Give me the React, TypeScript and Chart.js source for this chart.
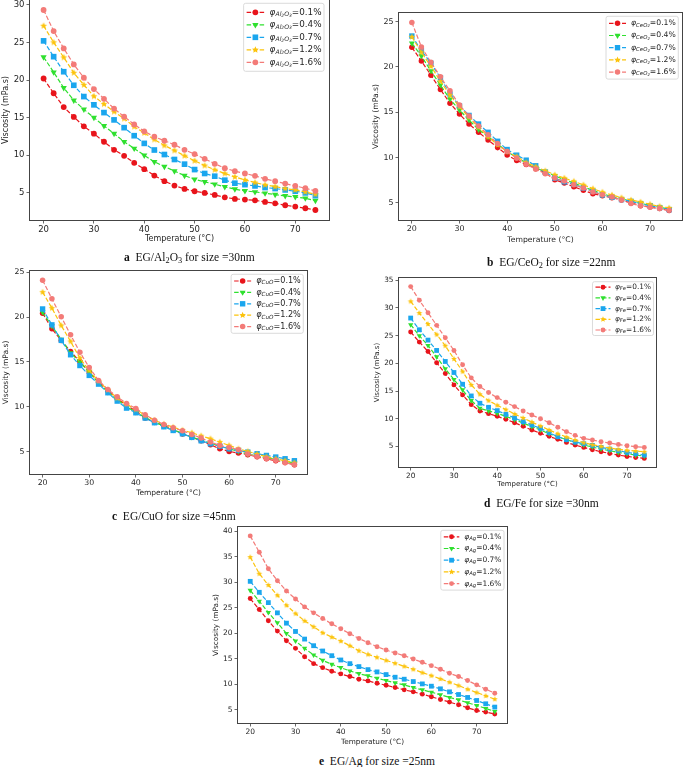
import React, { useEffect, useRef } from "react";
import { Chart, registerables } from "chart.js";
Chart.register(...registerables);

// ---------------- DATA ----------------
const temperatures = [20, 22, 24, 26, 28, 30, 32, 34, 36, 38, 40, 42, 44, 46, 48, 50, 52, 54, 56, 58, 60, 62, 64, 66, 68, 70, 72, 74];
const concentrations = ["0.1%", "0.4%", "0.7%", "1.2%", "1.6%"];
const xTicks = [20, 30, 40, 50, 60, 70];

// a: EG/Al2O3
const al2o3_01 = [20.2, 18.24, 16.4, 15.1, 13.84, 12.87, 11.8, 10.73, 9.93, 9.0, 8.16, 7.31, 6.56, 5.98, 5.53, 5.22, 5.0, 4.73, 4.42, 4.2, 4.12, 4.02, 3.8, 3.62, 3.36, 3.18, 2.96, 2.73];
const al2o3_04 = [23.04, 21.04, 18.96, 17.3, 16.1, 15.0, 13.9, 12.87, 11.8, 10.9, 10.0, 9.13, 8.5, 7.9, 7.3, 6.8, 6.47, 6.16, 5.8, 5.5, 5.27, 5.13, 4.96, 4.78, 4.6, 4.47, 4.29, 3.98];
const al2o3_07 = [25.2, 23.1, 21.1, 19.3, 17.8, 16.7, 15.67, 14.7, 13.67, 12.6, 11.58, 10.7, 10.1, 9.44, 8.82, 8.1, 7.58, 7.22, 6.69, 6.29, 6.1, 5.93, 5.71, 5.58, 5.4, 5.22, 5.0, 4.64];
const al2o3_12 = [27.2, 25.0, 23.0, 20.96, 19.36, 17.84, 16.8, 15.8, 14.87, 13.8, 12.96, 12.1, 11.3, 10.64, 9.93, 9.27, 8.64, 8.07, 7.58, 7.13, 6.73, 6.38, 6.07, 5.84, 5.58, 5.4, 5.13, 4.82];
const al2o3_16 = [29.3, 26.5, 24.2, 22.07, 20.3, 18.8, 17.5, 16.2, 15.13, 14.1, 13.18, 12.47, 11.93, 11.4, 10.73, 10.16, 9.53, 8.87, 8.29, 7.89, 7.58, 7.27, 6.87, 6.56, 6.24, 5.93, 5.62, 5.27];
const yTicksA = [5, 10, 15, 20, 25, 30];

// b: EG/CeO2
const ceo2_01 = [22.15, 20.65, 19.08, 17.5, 16.0, 14.8, 13.7, 12.79, 11.95, 11.1, 10.3, 9.68, 9.24, 8.84, 8.3, 7.56, 7.19, 6.79, 6.39, 6.02, 5.8, 5.58, 5.33, 5.0, 4.7, 4.56, 4.38, 4.16];
const ceo2_04 = [22.6, 21.2, 19.55, 17.98, 16.44, 15.24, 14.14, 13.1, 12.3, 11.5, 10.67, 10.0, 9.42, 8.84, 8.47, 8.0, 7.56, 7.19, 6.79, 6.39, 6.02, 5.69, 5.48, 5.18, 4.96, 4.74, 4.52, 4.34];
const ceo2_07 = [23.4, 21.8, 20.4, 18.8, 17.0, 15.7, 14.65, 13.7, 12.79, 11.8, 10.89, 10.27, 9.72, 9.1, 8.4, 7.74, 7.34, 7.05, 6.65, 6.28, 5.88, 5.62, 5.37, 5.18, 4.93, 4.7, 4.49, 4.27];
const ceo2_12 = [23.3, 21.6, 20.06, 18.42, 16.88, 15.6, 14.43, 13.34, 12.3, 11.4, 10.67, 10.12, 9.46, 9.0, 8.55, 8.1, 7.74, 7.38, 7.0, 6.57, 6.2, 5.88, 5.58, 5.33, 5.11, 4.85, 4.63, 4.45];
const ceo2_16 = [24.9, 22.2, 20.5, 18.9, 17.36, 15.8, 14.58, 13.48, 12.53, 11.54, 10.67, 9.94, 9.28, 8.73, 8.22, 7.74, 7.41, 7.0, 6.65, 6.2, 5.91, 5.66, 5.33, 4.93, 4.7, 4.52, 4.38, 4.2];
const yTicksB = [5, 10, 15, 20, 25];

// c: EG/CuO
const cuo_01 = [20.43, 18.7, 17.4, 16.16, 15.05, 13.87, 12.75, 11.8, 10.9, 10.16, 9.56, 8.75, 8.3, 7.93, 7.49, 6.97, 6.63, 6.22, 5.78, 5.33, 5.04, 4.85, 4.67, 4.44, 4.22, 4.0, 3.81, 3.55];
const cuo_04 = [20.54, 19.0, 17.5, 16.0, 14.98, 13.87, 12.68, 11.64, 10.82, 10.0, 9.41, 8.82, 8.3, 7.86, 7.45, 7.04, 6.63, 6.3, 5.96, 5.63, 5.33, 5.04, 4.74, 4.52, 4.33, 4.15, 3.92, 3.74];
const cuo_07 = [20.9, 19.13, 17.4, 15.8, 14.6, 13.5, 12.53, 11.57, 10.64, 9.86, 9.34, 8.75, 8.23, 7.78, 7.37, 7.0, 6.6, 6.22, 5.89, 5.63, 5.33, 5.15, 4.96, 4.78, 4.59, 4.41, 4.22, 4.0];
const cuo_12 = [22.77, 20.99, 19.06, 17.28, 15.42, 14.05, 12.86, 11.9, 10.97, 10.3, 9.71, 9.04, 8.52, 8.08, 7.74, 7.41, 7.11, 6.78, 6.45, 6.08, 5.7, 5.33, 5.04, 4.74, 4.44, 4.22, 4.0, 3.78];
const cuo_16 = [24.1, 22.03, 20.02, 18.02, 16.09, 14.38, 12.94, 11.94, 11.12, 10.38, 9.82, 9.12, 8.52, 8.04, 7.67, 7.34, 6.93, 6.52, 6.08, 5.7, 5.48, 5.22, 4.74, 4.48, 4.26, 4.04, 3.78, 3.55];
const yTicksC = [5, 10, 15, 20, 25];

// d: EG/Fe
const fe_01 = [25.64, 23.83, 22.14, 20.09, 18.16, 16.1, 14.3, 12.54, 11.4, 10.91, 10.43, 9.89, 9.28, 8.62, 7.96, 7.35, 6.81, 6.27, 5.72, 5.24, 4.82, 4.4, 4.03, 3.73, 3.43, 3.19, 3.0, 2.83];
const fe_04 = [26.97, 24.98, 23.23, 21.17, 19.0, 17.07, 15.2, 13.27, 11.88, 11.4, 10.97, 10.43, 9.83, 9.22, 8.56, 7.96, 7.29, 6.75, 6.21, 5.72, 5.24, 4.88, 4.52, 4.22, 3.91, 3.67, 3.43, 3.25];
const fe_07 = [28.17, 26.06, 24.19, 22.32, 20.33, 18.34, 16.22, 14.11, 12.79, 12.06, 11.46, 10.79, 10.13, 9.47, 8.86, 8.26, 7.47, 6.75, 6.21, 5.78, 5.48, 5.18, 4.82, 4.52, 4.22, 3.91, 3.67, 3.43];
const fe_12 = [31.19, 29.08, 27.09, 25.2, 23.17, 20.81, 18.52, 16.1, 14.41, 13.27, 12.42, 11.64, 10.85, 10.13, 9.4, 8.68, 7.96, 7.29, 6.69, 6.15, 5.66, 5.3, 5.0, 4.7, 4.46, 4.28, 4.16, 4.03];
const fe_16 = [33.85, 31.37, 29.14, 26.85, 24.61, 22.32, 19.73, 17.37, 15.8, 14.72, 13.81, 12.97, 12.18, 11.4, 10.67, 10.0, 9.28, 8.44, 7.66, 6.99, 6.45, 6.15, 5.84, 5.6, 5.36, 5.12, 4.94, 4.82];
const yTicksD = [5, 10, 15, 20, 25, 30, 35];

// e: EG/Ag
const ag_01 = [26.8, 24.65, 22.44, 20.42, 18.53, 17.04, 15.41, 14.04, 13.26, 12.55, 12.03, 11.51, 10.99, 10.66, 10.2, 9.81, 9.36, 8.9, 8.51, 8.06, 7.54, 7.02, 6.5, 5.98, 5.39, 4.87, 4.54, 4.15];
const ag_04 = [28.42, 26.28, 24.06, 22.05, 19.96, 18.47, 17.04, 15.74, 14.69, 13.91, 13.26, 12.61, 12.09, 11.64, 11.18, 10.73, 10.27, 9.88, 9.36, 8.9, 8.45, 7.93, 7.41, 6.95, 6.37, 5.85, 5.26, 4.67];
const ag_07 = [30.18, 28.03, 26.01, 24.0, 21.98, 20.35, 18.86, 17.56, 16.52, 15.6, 14.76, 14.04, 13.46, 12.87, 12.42, 11.9, 11.38, 10.99, 10.53, 10.07, 9.62, 9.1, 8.51, 7.99, 7.41, 6.82, 6.17, 5.52];
const ag_12 = [34.93, 31.68, 29.46, 27.45, 25.49, 23.87, 22.44, 21.27, 20.09, 19.25, 18.47, 17.56, 16.58, 15.87, 15.28, 14.69, 14.11, 13.52, 12.94, 12.29, 11.7, 11.05, 10.4, 9.75, 9.03, 8.38, 7.73, 7.08];
const ag_16 = [39.09, 35.9, 32.65, 30.31, 28.29, 26.73, 25.17, 24.0, 22.89, 21.85, 20.88, 19.9, 18.99, 18.14, 17.36, 16.71, 16.13, 15.6, 14.95, 14.3, 13.65, 12.94, 12.16, 11.51, 10.73, 9.88, 9.03, 8.25];
const yTicksE = [5, 10, 15, 20, 25, 30, 35, 40];

// ---------------- STYLE ----------------
const COLORS = ["#e8141b", "#2fe02f", "#1aa6ee", "#fcc30b", "#f37b78"];
const FF = "'DejaVu Sans', sans-serif";
const INK = "#262626";

type Sub = [string, number];
interface PanelCfg {
  canvas: { x: number; y: number; w: number; h: number };
  yW: number; xH: number;
  tickFont: number; titleFont: number;
  markerScale: number;
  series: number[][];
  yTicks: number[];
  sub: Sub[];
  legend: { font: number; row: number; handle: number; gap: number; m: number; right: number; top: number };
}

const panels: PanelCfg[] = [
  {
    canvas: { x: 1, y: -8, w: 336, h: 252 }, yW: 29, xH: 24, tickFont: 8.5, titleFont: 8, markerScale: 1,
    series: [al2o3_01, al2o3_04, al2o3_07, al2o3_12, al2o3_16], yTicks: yTicksA,
    sub: [["Al", 1], ["2", 2], ["O", 1], ["3", 2]],
    legend: { font: 8.8, row: 12.5, handle: 17.5, gap: 5.5, m: 9, right: 5, top: 3.3 },
  },
  {
    canvas: { x: 371, y: 5, w: 319, h: 240 }, yW: 28, xH: 25, tickFont: 7.9, titleFont: 7.7, markerScale: 0.95,
    series: [ceo2_01, ceo2_04, ceo2_07, ceo2_12, ceo2_16], yTicks: yTicksB,
    sub: [["CeO", 1], ["2", 2]],
    legend: { font: 7.7, row: 12.2, handle: 17, gap: 5, m: 7, right: 3.7, top: 3.3 },
  },
  {
    canvas: { x: 2, y: 263, w: 313, h: 235 }, yW: 28, xH: 24, tickFont: 7.8, titleFont: 7.5, markerScale: 0.95,
    series: [cuo_01, cuo_04, cuo_07, cuo_12, cuo_16], yTicks: yTicksC,
    sub: [["CuO", 1]],
    legend: { font: 8.1, row: 11.4, handle: 17, gap: 5, m: 6.7, right: 3.7, top: 3.3 },
  },
  {
    canvas: { x: 373, y: 270, w: 291, h: 218 }, yW: 26, xH: 21, tickFont: 7.3, titleFont: 7, markerScale: 0.85,
    series: [fe_01, fe_04, fe_07, fe_12, fe_16], yTicks: yTicksD,
    sub: [["Fe", 1]],
    legend: { font: 7.4, row: 10.7, handle: 15, gap: 4.5, m: 5.5, right: 2.5, top: 3.7 },
  },
  {
    canvas: { x: 212, y: 519, w: 303, h: 227 }, yW: 26, xH: 23, tickFont: 7.5, titleFont: 7.3, markerScale: 0.85,
    series: [ag_01, ag_04, ag_07, ag_12, ag_16], yTicks: yTicksE,
    sub: [["Ag", 1]],
    legend: { font: 7.5, row: 11.7, handle: 15.5, gap: 5, m: 6.5, right: 3, top: 3.3 },
  },
];

function makeStar(color: string, r: number): HTMLCanvasElement {
  const s = 2 * Math.ceil(r) + 2;
  const c = document.createElement("canvas");
  c.width = s; c.height = s;
  const ctx = c.getContext("2d")!;
  drawStarPath(ctx, s / 2, s / 2, r);
  ctx.fillStyle = color;
  ctx.fill();
  return c;
}
function drawStarPath(ctx: CanvasRenderingContext2D, x: number, y: number, r: number) {
  ctx.beginPath();
  for (let i = 0; i < 10; i++) {
    const rr = i % 2 === 0 ? r : r * 0.45;
    const a = -Math.PI / 2 + (i * Math.PI) / 5;
    ctx.lineTo(x + rr * Math.cos(a), y + rr * Math.sin(a));
  }
  ctx.closePath();
}

function drawLegendMarker(ctx: CanvasRenderingContext2D, i: number, x: number, y: number, s: number) {
  ctx.save();
  ctx.fillStyle = COLORS[i];
  ctx.setLineDash([]);
  if (i === 0 || i === 4) {
    ctx.beginPath(); ctx.arc(x, y, 2.9 * s, 0, Math.PI * 2); ctx.fill();
  } else if (i === 1) {
    const r = 3.6 * s;
    ctx.beginPath();
    ctx.moveTo(x, y + r);
    ctx.lineTo(x - r * 0.866, y - r * 0.5);
    ctx.lineTo(x + r * 0.866, y - r * 0.5);
    ctx.closePath(); ctx.fill();
  } else if (i === 2) {
    const h = 4.0 * s * Math.SQRT1_2;
    ctx.fillRect(x - h, y - h, 2 * h, 2 * h);
  } else {
    drawStarPath(ctx, x, y, 3.6 * s); ctx.fill();
  }
  ctx.restore();
}

function buildConfig(p: PanelCfg): any {
  const s = p.markerScale;
  const datasets = p.series.map((vals, i) => {
    const d: any = {
      label: concentrations[i],
      data: temperatures.map((t, k) => ({ x: t, y: vals[k] })),
      borderColor: COLORS[i],
      backgroundColor: COLORS[i],
      borderWidth: 1.2,
      borderDash: [4.5, 2],
      pointBorderWidth: 0,
      pointHoverRadius: 0,
      tension: 0,
      fill: false,
      order: 4 - i,
    };
    if (i === 0 || i === 4) { d.pointStyle = "circle"; d.pointRadius = 2.9 * s; }
    else if (i === 1) { d.pointStyle = "triangle"; d.pointRotation = 180; d.pointRadius = 3.6 * s; }
    else if (i === 2) { d.pointStyle = "rect"; d.pointRadius = 4.0 * s; }
    else { d.pointStyle = makeStar(COLORS[3], 3.6 * s); d.pointRadius = 3.6 * s; }
    return d;
  });
  const all = p.series.flat();
  const lo = Math.min(...all), hi = Math.max(...all);
  const m = (hi - lo) * 0.05;
  const xm = (74 - 20) * 0.05;

  const frame = {
    id: "frame",
    afterDatasetsDraw(chart: any) {
      const { ctx, chartArea: a } = chart;
      ctx.save();
      ctx.strokeStyle = "#444";
      ctx.lineWidth = 1;
      const l = Math.round(a.left) - 0.5, t = Math.round(a.top) - 0.5;
      const r = Math.round(a.right) + 0.5, b = Math.round(a.bottom) + 0.5;
      ctx.strokeRect(l, t, r - l, b - t);
      ctx.restore();
    },
  };

  const legend = {
    id: "insideLegend",
    afterDraw(chart: any) {
      const { ctx, chartArea: a } = chart;
      const L = p.legend;
      const f = L.font;
      const rows = concentrations.map((c) => [
        { t: "φ", size: f, dy: 0, st: "italic" },
        ...p.sub.map(([t, lvl]) => ({ t, size: lvl === 1 ? f * 0.7 : f * 0.5, dy: lvl === 1 ? f * 0.24 : f * 0.4, st: "italic" })),
        { t: "=" + c, size: f, dy: 0, st: "normal" },
      ]);
      ctx.save();
      let textW = 0;
      rows.forEach((segs) => {
        let w = 0;
        for (const sg of segs) {
          ctx.font = `${sg.st} ${sg.size}px ${FF}`;
          w += ctx.measureText(sg.t).width;
        }
        textW = Math.max(textW, w);
      });
      const padL = 3, padR = 2.5;
      const boxW = padL + L.handle + L.gap + textW + padR;
      const boxH = L.m * 2 + L.row * 4;
      const bx = a.right - L.right - boxW;
      const by = a.top + L.top;
      ctx.beginPath();
      const rr = 2;
      ctx.moveTo(bx + rr, by);
      ctx.arcTo(bx + boxW, by, bx + boxW, by + boxH, rr);
      ctx.arcTo(bx + boxW, by + boxH, bx, by + boxH, rr);
      ctx.arcTo(bx, by + boxH, bx, by, rr);
      ctx.arcTo(bx, by, bx + boxW, by, rr);
      ctx.closePath();
      ctx.fillStyle = "rgba(255,255,255,0.85)";
      ctx.fill();
      ctx.strokeStyle = "#d2d2d2";
      ctx.lineWidth = 0.8;
      ctx.stroke();
      rows.forEach((segs, i) => {
        const y = by + L.m + i * L.row;
        const hx = bx + padL;
        ctx.save();
        ctx.strokeStyle = COLORS[i];
        ctx.lineWidth = 1.2;
        ctx.setLineDash([4.5, 2]);
        ctx.beginPath();
        ctx.moveTo(hx, y);
        ctx.lineTo(hx + L.handle, y);
        ctx.stroke();
        ctx.restore();
        drawLegendMarker(ctx, i, hx + L.handle / 2, y, s);
        let tx = hx + L.handle + L.gap;
        ctx.fillStyle = INK;
        ctx.textBaseline = "middle";
        ctx.textAlign = "left";
        for (const sg of segs) {
          ctx.font = `${sg.st} ${sg.size}px ${FF}`;
          ctx.fillText(sg.t, tx, y + sg.dy);
          tx += ctx.measureText(sg.t).width;
        }
      });
      ctx.restore();
    },
  };

  const gridCfg = { display: true, drawOnChartArea: false, drawTicks: true, tickLength: 3.5, color: "#444", lineWidth: 0.8 };

  return {
    type: "line",
    data: { datasets },
    plugins: [frame, legend],
    options: {
      responsive: false,
      animation: false,
      devicePixelRatio: 1,
      layout: { padding: { top: 8, right: 8, left: 0, bottom: 0 } },
      plugins: { legend: { display: false }, tooltip: { enabled: false } },
      events: [],
      scales: {
        x: {
          type: "linear",
          min: 20 - xm,
          max: 74 + xm,
          afterBuildTicks: (sc: any) => { sc.ticks = xTicks.map((v) => ({ value: v })); },
          afterFit: (sc: any) => { sc.height = p.xH; },
          grid: gridCfg,
          border: { display: false },
          ticks: { color: INK, padding: 1, font: { size: p.tickFont, family: FF }, maxRotation: 0 },
          title: { display: true, text: "Temperature (°C)", color: INK, padding: 0, font: { size: p.titleFont, family: FF } },
        },
        y: {
          type: "linear",
          min: lo - m,
          max: hi + m,
          afterBuildTicks: (sc: any) => { sc.ticks = p.yTicks.map((v) => ({ value: v })); },
          afterFit: (sc: any) => { sc.width = p.yW; },
          grid: gridCfg,
          border: { display: false },
          ticks: { color: INK, padding: 2, font: { size: p.tickFont, family: FF } },
          title: { display: true, text: "Viscosity (mPa.s)", color: INK, padding: 0, font: { size: p.titleFont, family: FF } },
        },
      },
    },
  };
}

function Panel({ cfg }: { cfg: PanelCfg }) {
  const ref = useRef<HTMLCanvasElement>(null);
  useEffect(() => {
    const chart = new Chart(ref.current!, buildConfig(cfg));
    return () => chart.destroy();
  }, [cfg]);
  const c = cfg.canvas;
  return (
    <canvas
      ref={ref}
      width={c.w}
      height={c.h}
      style={{ position: "absolute", left: c.x, top: c.y, width: c.w, height: c.h }}
    />
  );
}

const subStyle: React.CSSProperties = { fontSize: "0.72em", verticalAlign: "-0.25em", lineHeight: 0 };

function Caption({ x, y, letter, children }: { x: number; y: number; letter: string; children: React.ReactNode }) {
  return (
    <div
      style={{
        position: "absolute",
        left: x,
        top: y - 7,
        height: 14,
        lineHeight: "14px",
        fontFamily: "'Liberation Serif', 'Times New Roman', serif",
        fontSize: 11.5,
        color: "#111",
        whiteSpace: "nowrap",
      }}
    >
      <b>{letter}</b>&nbsp;&nbsp;{children}
    </div>
  );
}

export default function App() {
  return (
    <div style={{ position: "absolute", left: 0, top: 0, width: 685, height: 767, overflow: "hidden", background: "#fff" }}>
      {panels.map((p, i) => (
        <Panel key={i} cfg={p} />
      ))}
      <Caption x={124} y={256.5} letter="a">
        EG/Al<sub style={subStyle}>2</sub>O<sub style={subStyle}>3</sub> for size =30nm
      </Caption>
      <Caption x={487} y={262} letter="b">
        EG/CeO<sub style={subStyle}>2</sub> for size =22nm
      </Caption>
      <Caption x={112} y={516} letter="c">
        EG/CuO for size =45nm
      </Caption>
      <Caption x={484} y={503} letter="d">
        EG/Fe for size =30nm
      </Caption>
      <Caption x={319} y={760.5} letter="e">
        EG/Ag for size =25nm
      </Caption>
    </div>
  );
}
